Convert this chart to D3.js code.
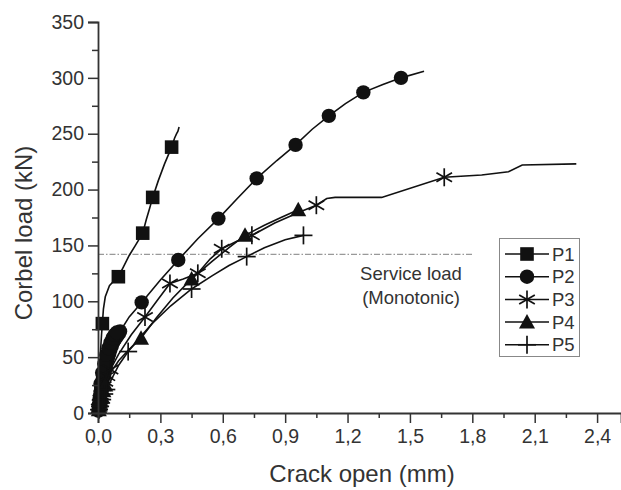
<!DOCTYPE html>
<html>
<head>
<meta charset="utf-8">
<script src="https://cdn.jsdelivr.net/npm/d3@7"></script>
<style>
  body { margin: 0; background: #fff; }
  svg { display: block; font-family: "Liberation Sans", Arial, sans-serif; }
</style>
</head>
<body>
<svg width="621" height="490"></svg>
<script>
// crack opening (mm) vs corbel load (kN)
const p1Line = [[0,0],[0.004,15],[0.008,35],[0.012,55],[0.017,70],[0.021,80],[0.026,93],[0.035,104],[0.055,114],[0.08,119],[0.098,122],[0.12,130],[0.15,141],[0.18,150],[0.215,161],[0.232,173],[0.248,183],[0.263,193],[0.29,208],[0.32,223],[0.354,238],[0.368,246],[0.378,250],[0.384,252],[0.39,256]];
const p1Marks = [[0.021,80],[0.098,122],[0.215,161],[0.263,193],[0.354,238]];

const p2Line = [[0,0],[0.004,6],[0.008,13],[0.014,20],[0.02,27],[0.028,34],[0.036,41],[0.045,48],[0.055,54],[0.066,60],[0.078,65],[0.092,69],[0.106,73],[0.15,86],[0.21,99],[0.3,119],[0.386,137],[0.48,156],[0.579,174],[0.67,192],[0.763,210],[0.86,226],[0.95,240],[1.03,254],[1.11,266],[1.19,277],[1.276,287],[1.37,294],[1.457,300],[1.568,306]];
const p2Marks = [[0.002,2],[0.004,6],[0.006,9],[0.008,13],[0.011,17],[0.014,20],[0.017,24],[0.02,27],[0.024,31],[0.028,34],[0.032,38],[0.036,41],[0.04,45],[0.045,48],[0.05,51],[0.055,54],[0.06,57],[0.066,60],[0.072,63],[0.078,65],[0.085,67],[0.092,69],[0.1,71],[0.106,73],
  [0.03,44],[0.04,52],[0.05,58],[0.06,63],[0.07,67],[0.08,70],[0.09,72],[0.02,36],[0.012,26],
  [0.21,99],[0.386,137],[0.579,174],[0.763,210],[0.95,240],[1.11,266],[1.276,287],[1.457,300]];

const p3Line = [[0,0],[0.01,10],[0.02,19],[0.035,28],[0.06,39],[0.1,53],[0.16,70],[0.226,86],[0.29,102],[0.346,116],[0.41,120],[0.48,125],[0.54,138],[0.595,147],[0.67,154],[0.74,159],[0.85,170],[0.97,180],[1.05,186],[1.1,192],[1.14,193],[1.364,193],[1.665,211],[1.845,213],[1.974,216],[2.04,222],[2.3,223]];
const p3Marks = [[0.004,4],[0.008,8],[0.012,12],[0.016,16],[0.02,19],[0.027,24],[0.035,28],[0.045,33],[0.06,39],[0.226,86],[0.346,116],[0.48,125],[0.595,147],[0.74,159],[1.05,186],[1.665,211]];

const p4Line = [[0,0],[0.008,7],[0.018,15],[0.035,25],[0.06,36],[0.1,47],[0.15,57],[0.207,67],[0.28,85],[0.36,103],[0.45,120],[0.55,136],[0.63,148],[0.707,159],[0.8,168],[0.88,175],[0.963,182]];
const p4Marks = [[0.004,3],[0.008,7],[0.013,11],[0.018,15],[0.026,20],[0.035,25],[0.207,67],[0.45,120],[0.707,159],[0.963,182]];

const p5Line = [[0,0],[0.01,6],[0.02,12],[0.04,21],[0.07,32],[0.1,43],[0.145,55],[0.19,65],[0.26,80],[0.35,96],[0.45,111],[0.55,123],[0.63,132],[0.715,140],[0.8,148],[0.9,155],[0.988,159]];
const p5Marks = [[0.005,3],[0.01,6],[0.015,9],[0.02,12],[0.03,17],[0.04,21],[0.145,55],[0.45,111],[0.715,140],[0.988,159]];

const seriesNames = ["P1", "P2", "P3", "P4", "P5"];
const seriesSymbols = ["square", "circle", "star", "triangle", "plus"];
const serviceLoad = 142;
const serviceEnd = 1.8;
const yTicks = [0, 50, 100, 150, 200, 250, 300, 350];
const xTicks = [0, 0.3, 0.6, 0.9, 1.2, 1.5, 1.8, 2.1, 2.4];

const series = [
  { name: "P1", line: p1Line, marks: p1Marks, sym: "square" },
  { name: "P2", line: p2Line, marks: p2Marks, sym: "circle" },
  { name: "P3", line: p3Line, marks: p3Marks, sym: "star" },
  { name: "P4", line: p4Line, marks: p4Marks, sym: "triangle" },
  { name: "P5", line: p5Line, marks: p5Marks, sym: "plus" }
];

const svg = d3.select("svg");
const ink = "#333";

const x = d3.scaleLinear().domain([0, 2.515]).range([98, 621]);
const y = d3.scaleLinear().domain([0, 350]).range([413, 22]);
const fmt = v => d3.format(".1f")(v).replace(".", ",");

function drawSymbol(g, sym, cx, cy) {
  if (sym === "square") {
    g.append("rect").attr("x", cx - 6.8).attr("y", cy - 6.8).attr("width", 13.6).attr("height", 13.6).attr("fill", "#111");
  } else if (sym === "circle") {
    g.append("circle").attr("cx", cx).attr("cy", cy).attr("r", 7.2).attr("fill", "#111");
  } else if (sym === "triangle") {
    g.append("path").attr("d", `M${cx},${cy - 8}L${cx + 8},${cy + 6.5}L${cx - 8},${cy + 6.5}Z`).attr("fill", "#111");
  } else if (sym === "star") {
    [90, 30, 150].forEach(a => {
      const r = a * Math.PI / 180, dx = 9 * Math.cos(r), dy = 9 * Math.sin(r);
      g.append("line").attr("x1", cx - dx).attr("y1", cy - dy).attr("x2", cx + dx).attr("y2", cy + dy)
        .attr("stroke", "#111").attr("stroke-width", 1.7);
    });
  } else if (sym === "plus") {
    g.append("line").attr("x1", cx - 9).attr("x2", cx + 9).attr("y1", cy).attr("y2", cy).attr("stroke", "#111").attr("stroke-width", 1.7);
    g.append("line").attr("x1", cx).attr("x2", cx).attr("y1", cy - 9).attr("y2", cy + 9).attr("stroke", "#111").attr("stroke-width", 1.7);
  }
}

// service load reference line
svg.append("line")
  .attr("x1", x(0)).attr("x2", x(serviceEnd))
  .attr("y1", y(serviceLoad)).attr("y2", y(serviceLoad))
  .attr("stroke", "#999").attr("stroke-width", 1.3)
  .attr("stroke-dasharray", "6,2,1.5,2");

svg.append("text").attr("x", 411).attr("y", 280).attr("text-anchor", "middle")
  .attr("font-size", 18.5).attr("fill", ink).text("Service load");
svg.append("text").attr("x", 411).attr("y", 304).attr("text-anchor", "middle")
  .attr("font-size", 18.5).attr("fill", ink).text("(Monotonic)");

// curves
const line = d3.line().x(d => x(d[0])).y(d => y(d[1]));
series.forEach(s => {
  svg.append("path").datum(s.line).attr("d", line)
    .attr("fill", "none").attr("stroke", "#111").attr("stroke-width", 1.6);
  const g = svg.append("g");
  s.marks.forEach(d => drawSymbol(g, s.sym, x(d[0]), y(d[1])));
});

// y axis
svg.append("g").attr("transform", `translate(${x(0)},0)`)
  .call(d3.axisLeft(y).tickValues(yTicks).tickSize(10).tickPadding(4).tickFormat(d3.format("d")));
svg.append("g").attr("transform", `translate(${x(0)},0)`)
  .call(d3.axisLeft(y).tickValues(d3.range(25, 350, 50)).tickSize(6).tickFormat(""))
  .select(".domain").remove();

// x axis
svg.append("g").attr("transform", `translate(0,${y(0)})`)
  .call(d3.axisBottom(x).tickValues(xTicks).tickSize(10).tickPadding(6).tickFormat(fmt));
svg.append("g").attr("transform", `translate(0,${y(0)})`)
  .call(d3.axisBottom(x).tickValues(d3.range(0.15, 2.5, 0.3)).tickSize(5).tickFormat(""))
  .select(".domain").remove();

svg.selectAll(".domain").attr("stroke", ink).attr("stroke-width", 1.8);
svg.selectAll(".tick line").attr("stroke", ink).attr("stroke-width", 1.5);
svg.selectAll(".tick text").attr("fill", ink).attr("font-size", 19.5).attr("font-family", "Liberation Sans, Arial, sans-serif");

svg.append("text")
  .attr("transform", "rotate(-90)")
  .attr("x", -233).attr("y", 32)
  .attr("text-anchor", "middle").attr("font-size", 24).attr("fill", ink)
  .text("Corbel load (kN)");

svg.append("text")
  .attr("x", 362).attr("y", 482)
  .attr("text-anchor", "middle").attr("font-size", 24).attr("fill", ink)
  .text("Crack open (mm)");

// legend
const leg = svg.append("g");
leg.append("rect").attr("x", 499.5).attr("y", 238.5).attr("width", 80).attr("height", 118)
  .attr("fill", "#fff").attr("stroke", "#888").attr("stroke-width", 1);
seriesNames.forEach((name, i) => {
  const ly = 254 + i * 22.7;
  leg.append("line").attr("x1", 505).attr("x2", 549).attr("y1", ly).attr("y2", ly)
    .attr("stroke", "#111").attr("stroke-width", 1.5);
  drawSymbol(leg, seriesSymbols[i], 527, ly);
  leg.append("text").attr("x", 552).attr("y", ly + 6.5).attr("font-size", 18.5).attr("fill", ink).text(name);
});
</script>
</body>
</html>
